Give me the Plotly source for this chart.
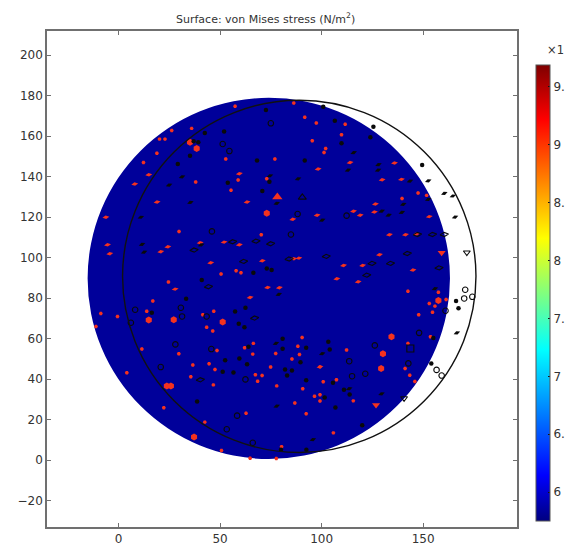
import plotly.graph_objects as go

# Reference geometry of the two circles (centre x, centre y, radius)
disc_cx, disc_cy, disc_r = 74.0, 89.8, 89.2
ring_cx, ring_cy, ring_r = 89.0, 90.8, 87.0

red_dot_x = [57.4,36,26.2,20.2,22.9,18.9,12.3,38,52.8,77,58.9,55.4,73,29.8,70.3,57.9,60.3,50.5,
             86.3,91.7,97.4,111.6,109.8,95.4,102,101.2,147.5,151.7,139.6,
             24.6,16.9,-8.7,-0.5,13.9,-11.1,11.5,29.7,41.5,46.9,43.4,46.4,48.5,36.6,44.6,47.5,4.1,35.6,46.7,22.3,42.5,62.8,50.7,64.8,77.7,62.1,66.4,66.1,77.4,74.9,67.4,70.7,68.5,77.9,80.3,
             142.5,157.5,161.3,153,155.8,147.8,154.6,90.4,88.3,89.1,85.4,112.3,142.5,153.6,99.2,141.1,143.4,145.9,100.8,107.3,90.7,96.5,99.2,99.2,86.8,115.6,92.4,105.8]
red_dot_y = [174.8,163.9,162.9,158.6,158.6,151.6,147,137.4,148.8,148.8,138.4,133.3,139,113,111.4,93.6,92.6,92,
             176.4,169.4,166.6,165.9,160.8,157.8,154,152,132,130.8,129.3,
             88,78.6,72.5,71,73.6,66,54.9,52.6,71.8,73.6,65.7,63.8,54.2,47,47.6,44.8,43.2,41.2,37.2,25.9,18.8,23.2,4.8,1,0.8,55.5,57.7,52.4,52.7,46,42.2,41.8,39,36.7,6.6,
             83.5,83,79.4,77.4,76.1,71.8,73.1,60.6,56.3,52.2,50,54.4,57.7,61,46.1,45.3,42,38.9,38.7,39.7,35.3,31.6,32.3,29.2,28.2,29.3,22.9,13.5]

red_dash_x = [14.9,8,59.5,63.3,19,-6.2,-5.4,-4.3,40.2,52,59.5,24.3,20.8,45.4,70.8,
              114,98.3,135.9,129.8,139.3,126.5,115.7,119,126,85.8,97.8,153,133.4,141.3,146.7,128.5,110.8,120.2,145,86.3,88.8,
              27.9,64.8,73.4,79.2,107.5,118,99.2]
red_dash_y = [141,136.4,141.5,127.5,127.5,120,106.4,102,107.4,107.7,106.4,105.4,103,97.5,98.5,
              147,143.8,146.8,138.5,138.7,126.5,123,121,122.6,119,121,120.3,111.4,111.4,111.7,101.5,96.2,96.2,93.9,99.5,99.8,
              84.5,80.4,85.3,85.2,89.6,88.1,46.1]

red_big_x = [35.2,38.5,73,14.9,27.2,51.3,23.8,25.8,37.2,134.4,129.3,130.2,157.5]
red_big_y = [157,154,122,69.2,69.4,68.2,36.7,36.7,11.5,61,45.3,52.6,78.9]

red_tri_up_x = [78.2]
red_tri_up_y = [130]
red_tri_down_x = [159.1,126.8]
red_tri_down_y = [102.5,27.3]

black_dot_x = [72.6,42.5,52,39.3,37,35.2,29.2,53.8,68.2,70.8,74.3,66.4,73,75.4,
               100.8,106.5,125.5,124,109.8,91.7,149.5,
               33.3,16.4,57.4,62.5,59.2,62,41,64,80.8,80.8,52.5,59.5,63.3,51.3,56.6,38.7,80,
               103.3,104,92.4,89.6,82,85.4,83,92.4,105.6,111,113.8,101.5,106.8,120,92.5,155,154,166.2,167.4]
black_dot_y = [173,161.6,162.4,157,157.5,150.4,146.3,137,148,133,137.5,92.6,94.7,93.9,
               174.6,167.7,164.7,159.5,156.5,148,145.8,
               79.7,72.8,73.5,75.3,67.4,65.7,89,56,55,60,49.4,50.2,47.4,43.7,43.3,29,5.1,
               58.5,54.7,55.5,48.4,44.8,44.3,41.8,39.5,38.2,34.8,32.5,31,26,17.3,5.1,60.3,47.8,78.6,75]

black_dash_x = [31.3,24.9,35.4,11,11.6,12.6,74.6,77.9,40.7,
                115.8,128,127.8,113,88.4,143.5,152.5,160.4,164.6,152.5,140.2,129.6,133,139.5,100.3,165.7,
                77.5,77.9,78.9,100.3,113.6,129.5,95.7,155.8,166.6]
black_dash_y = [140,135.9,127.3,120,106.6,102.8,140.5,126.9,106.3,
                151.9,146,143.3,143.3,139,137.9,138,131.8,130.5,128.8,126.4,123,121,122.4,118.6,120.1,
                57.7,26.7,81.9,52.6,35.3,32.8,10.2,84.7,62.9]

open_round_x = [51.3,54.6,75,46,84.9,88.2,8.2,30.7,6.1,31.3,43.4,28,45.7,20.8,62.5,58.4,53.3,66.1,
                161,148,126.2,113.6,115,121.5,142.7,170.7,170.2,174.2,156.6,159.1,112.3]
open_round_y = [156.2,152.7,166.4,113,111.5,121.6,74.3,75.3,67.9,71,71,57.2,54.9,46,39.9,22,15.3,8.6,
                73.8,62.9,56.7,48.9,41.5,42.7,47.8,84.2,79.9,80.7,44.6,41.8,120.8]

open_wide_x = [37.2,56.2,67.7,74.9,61.6,147.2,154.6,160.4,102.3,142.2,84,124.8,133.9,157.8,122.2,44.3,67,40.3]
open_wide_y = [103.8,107.9,108.2,106.9,98.2,111.5,111.5,111.5,100.7,102.1,99.4,97.2,97.2,95,91.4,85.7,70.2,39.7]

open_tri_up_x = [90.5]
open_tri_up_y = [129.8]
open_tri_down_x = [171.5,140.6]
open_tri_down_y = [102.6,30.6]
open_square_x = [143.7]
open_square_y = [55.2]

cb_min, cb_max = 5.75, 9.69
cb_ticks = [6, 6.5, 7, 7.5, 8, 8.5, 9, 9.5]
cb_labels = ["6", "6.", "7", "7.", "8", "8.", "9", "9."]
jet = [[0, "#00007f"], [0.10, "#0000ff"], [0.376, "#00ffff"], [0.62, "#ffff00"],
       [0.88, "#ff0000"], [1, "#7f0000"]]

W, H = 567, 552
L, R, T, B = 47, 517, 31, 527
PW, PH = R - L, B - T

fig = go.Figure()

def pts(x, y, symbol, size, color, angle=0, lw=0):
    fig.add_trace(go.Scatter(x=x, y=y, mode="markers", hoverinfo="skip", showlegend=False,
                             marker=dict(symbol=symbol, size=size, color=color, angle=angle,
                                         line=dict(width=lw, color=color))))

RED, BLK = "#f5321e", "#0a0a0a"
pts(red_dot_x, red_dot_y, "hexagon2", 4, RED)
pts(red_dash_x, red_dash_y, "diamond-wide", 5, RED, angle=-10)
pts(red_big_x, red_big_y, "hexagon", 7, RED)
pts(red_tri_up_x, red_tri_up_y, "triangle-up", 9, RED)
pts(red_tri_down_x, red_tri_down_y, "triangle-down", 7, RED)
pts(black_dot_x, black_dot_y, "circle", 4.5, BLK)
pts(black_dash_x, black_dash_y, "diamond-wide", 5, BLK, angle=-22)
pts(open_round_x, open_round_y, "circle-open", 5.5, BLK, lw=1.1)
pts(open_wide_x, open_wide_y, "diamond-wide-open", 6, BLK, angle=-6, lw=1.1)
pts(open_tri_up_x, open_tri_up_y, "triangle-up-open", 7, BLK, lw=1.1)
pts(open_tri_down_x, open_tri_down_y, "triangle-down-open", 6, BLK, lw=1.1)
pts(open_square_x, open_square_y, "square-open", 7, BLK, lw=1.1)

# colourbar carrier
fig.add_trace(go.Scatter(x=[None], y=[None], mode="markers", hoverinfo="skip", showlegend=False,
    marker=dict(color=[cb_min], cmin=cb_min, cmax=cb_max, colorscale=jet, showscale=True,
        colorbar=dict(
            thickness=14, thicknessmode="pixels",
            len=521 - 65, lenmode="pixels",
            x=(536 - L) / PW, xanchor="left",
            y=1 - (65 - T) / PH, yanchor="top",
            tickvals=cb_ticks, ticktext=cb_labels, ticks="inside", ticklen=2,
            tickcolor="#111111", tickwidth=1,
            outlinecolor="#555555", outlinewidth=1, borderwidth=0,
            tickfont=dict(family="DejaVu Sans", size=12, color="#333333"),
            xpad=0, ypad=0))))

fig.update_layout(
    width=W, height=H, paper_bgcolor="white", plot_bgcolor="white",
    margin=dict(l=L, r=W - R, t=T, b=H - B, pad=0, autoexpand=False),
    font=dict(family="DejaVu Sans", size=12, color="#333333"),
    shapes=[
        dict(type="circle", xref="x", yref="y", layer="below",
             x0=disc_cx - disc_r, x1=disc_cx + disc_r, y0=disc_cy - disc_r, y1=disc_cy + disc_r,
             fillcolor="#00009a", line=dict(width=0)),
        dict(type="circle", xref="x", yref="y", layer="above",
             x0=ring_cx - ring_r, x1=ring_cx + ring_r, y0=ring_cy - ring_r, y1=ring_cy + ring_r,
             fillcolor="rgba(0,0,0,0)", line=dict(width=1.4, color="#111111")),
    ],
    annotations=[
        dict(text="Surface: von Mises stress (N/m<sup>2</sup>)", xref="paper", yref="paper",
             x=(265 - L) / PW, y=1 + 3 / PH, yanchor="bottom", xanchor="center", showarrow=False,
             font=dict(family="DejaVu Sans", size=11, color="#333333")),
        dict(text="×1", xref="paper", yref="paper", x=(545 - L) / PW, y=1 + (T - 50) / PH,
             xanchor="left", yanchor="middle", showarrow=False,
             font=dict(family="DejaVu Sans", size=11.5, color="#333333")),
    ],
)
axis = dict(showgrid=False, zeroline=False, showline=True, linecolor="#707070", linewidth=1.5, mirror="ticks",
            ticks="inside", ticklen=4, tickcolor="#707070", tickfont=dict(family="DejaVu Sans", size=12, color="#333333"))
fig.update_xaxes(range=[-35.2, 196.2], tickvals=[0, 50, 100, 150], **axis)
fig.update_yaxes(range=[-33.0, 212.0], tickvals=[-20, 0, 20, 40, 60, 80, 100, 120, 140, 160, 180, 200], **axis)

fig.write_html("out.html", post_script="document.body.style.margin='0';", config={"displayModeBar": False})
